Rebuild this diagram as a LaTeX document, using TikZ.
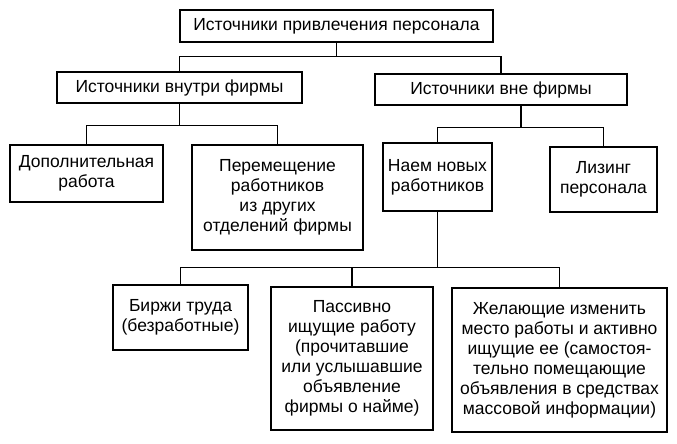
\documentclass[tikz,border=0pt]{standalone}
\usepackage{fontspec}
\setmainfont{Liberation Sans}
\usetikzlibrary{positioning}

\begin{document}
\begin{tikzpicture}[x=1pt,y=-1pt,
  every node/.style={font=\fontsize{17.5}{20}\selectfont},
  box/.style={draw,line width=1.4pt,align=center,inner sep=2pt},
  link/.style={line width=1.2pt}]
  \useasboundingbox (0,0) rectangle (677,444);
  % top level
  \node[box,minimum width=313pt,minimum height=32pt] (root) at (336.5,26) {Источники привлечения персонала};
  \node[box,minimum width=245pt,minimum height=31pt] (inner) at (179.5,87.5) {Источники внутри фирмы};
  \node[box,minimum width=252pt,minimum height=31pt] (outer) at (501,89.5) {Источники вне фирмы};
  % inside the firm
  \node[box,minimum width=153pt,minimum height=57pt] (extra) at (86.5,173.5) {Дополнительная\\работа};
  \node[box,minimum width=171pt,minimum height=105pt] (transfer) at (277.5,197.5) {Перемещение\\работников\\из других\\отделений фирмы};
  % outside the firm
  \node[box,minimum width=109pt,minimum height=68pt] (hire) at (437.5,177) {Наем новых\\работников};
  \node[box,minimum width=107pt,minimum height=65pt] (leasing) at (603.5,179.5) {Лизинг\\персонала};
  % new workers
  \node[box,minimum width=135pt,minimum height=65pt] (exchange) at (180.5,317.5) {Биржи труда\\(безработные)};
  \node[box,minimum width=162pt,minimum height=143pt] (passive) at (352,358.5) {Пассивно\\ищущие работу\\(прочитавшие\\или услышавшие\\объявление\\фирмы о найме)};
  \node[box,minimum width=215pt,minimum height=144pt] (active) at (559.5,360) {Желающие изменить\\место работы и активно\\ищущие ее (самостоя-\\тельно помещающие\\объявления в средствах\\массовой информации)};
  % links
  \draw[link] (root.south) -- ++(0,14) -| (inner.north);
  \draw[link] (root.south) -- ++(0,14) -| (outer.north);
  \draw[link] (inner.south) -- ++(0,22) -| (extra.north);
  \draw[link] (inner.south) -- ++(0,22) -| (transfer.north);
  \draw[link] ([xshift=20pt]outer.south) -- ++(0,22) -| (hire.north);
  \draw[link] ([xshift=20pt]outer.south) -- ++(0,22) -| (leasing.north);
  \draw[link] (hire.south) -- ++(0,56) -| (exchange.north);
  \draw[link] (hire.south) -- ++(0,56) -| (passive.north);
  \draw[link] (hire.south) -- ++(0,56) -| (active.north);
\end{tikzpicture}
\end{document}
